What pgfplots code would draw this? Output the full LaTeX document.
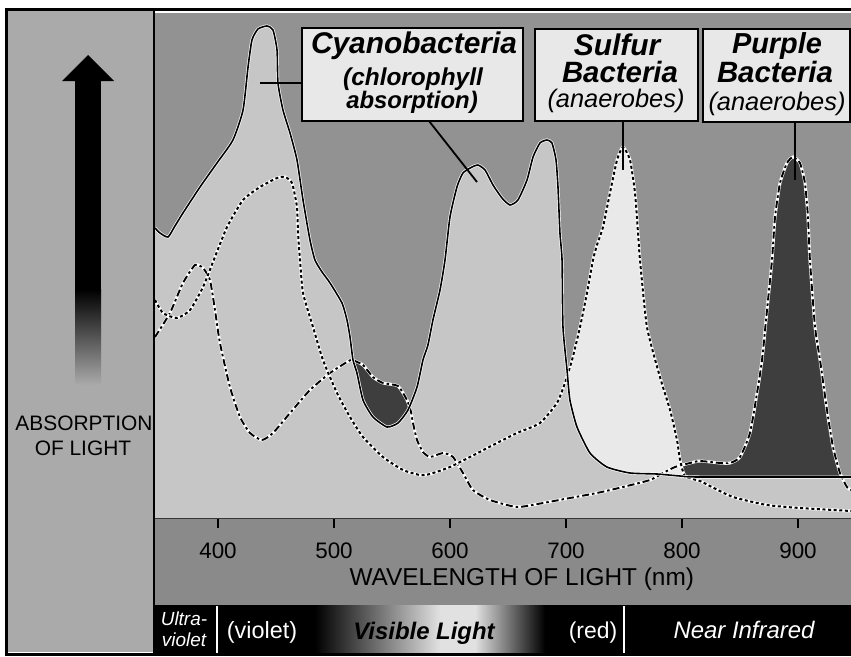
\documentclass[border=0pt]{standalone}
\usepackage{fontspec}
\setmainfont{Liberation Sans}
\usepackage{pgfplots}
\usepackage{pgfplotstable}
\pgfplotsset{compat=1.18}

\definecolor{panel}{RGB}{170,170,170}
\definecolor{bgmid}{RGB}{146,146,146}
\definecolor{cyanfill}{RGB}{198,198,198}
\definecolor{sulfill}{RGB}{233,233,233}
\definecolor{purfill}{RGB}{62,62,62}
\definecolor{band}{RGB}{138,138,138}
\definecolor{boxfill}{RGB}{232,232,232}
\definecolor{gradwhite}{RGB}{225,225,225}

% Cyanobacteria (chlorophyll) absorption, wavelength (nm) vs relative absorption
\pgfplotstableread{
x y
345.7 290
350.0 285
356.9 281
362.9 292
369.8 305
384.5 331
399.1 355
412.9 378
421.6 408
425.9 451
429.3 478
434.5 489
442.2 492
447.4 488
450.9 468
451.7 435
456.0 408
462.1 385
468.1 358
473.3 318
479.3 278
483.6 258
489.7 246
496.6 235
506.9 215
511.2 198
513.8 181
516.4 158
519.8 145
525.0 118
533.6 101
545.7 91
555.2 95
563.8 108
571.6 131
576.7 158
581.0 173
585.3 198
591.4 228
595.7 258
600.0 301
606.0 331
611.2 345
619.0 351
624.1 353
630.2 348
637.1 333
644.8 320
651.7 313
658.6 318
666.4 338
671.6 361
677.6 375
683.6 378
687.9 375
691.4 358
693.1 331
694.8 285
696.6 258
697.4 191
700.9 148
703.4 118
709.5 91
720.7 65
735.3 51
755.2 45
778.4 44
798.3 42
815.5 41
945.7 41
}\cyano

% Sulfur bacteria
\pgfplotstableread{
x y
345.7 218
352.6 205
364.7 200
375.9 208
387.1 231
395.7 256
407.8 291
421.6 318
436.2 331
450.9 340
457.8 341
463.8 335
468.1 311
469.0 285
470.7 258
473.3 225
481.9 191
490.5 158
502.6 125
513.8 101
525.0 81
542.2 61
559.5 48
574.1 43
582.8 44
600.0 51
617.2 61
640.5 75
657.8 85
677.6 95
692.2 115
699.1 135
705.2 158
712.1 191
718.1 225
723.3 258
726.7 273
731.9 291
737.9 325
744.0 358
749.1 371
755.2 358
759.5 325
762.1 285
763.8 258
769.8 191
781.0 141
789.7 108
795.7 78
798.3 58
802.6 42
815.5 37
824.1 32
844.0 21
873.3 13
901.7 10
945.7 7
}\sulfur

% Purple bacteria
\pgfplotstableread{
x y
345.7 181
358.6 205
369.8 235
380.2 253
387.1 250
393.1 238
397.4 208
401.7 175
410.3 131
419.0 101
427.6 85
437.9 78
447.4 85
462.1 105
479.3 128
496.6 145
511.2 156
515.5 158
525.0 153
533.6 141
542.2 135
555.2 132
562.9 118
566.4 106
568.1 95
571.6 78
576.7 66
582.8 61
594.0 65
602.6 61
611.2 45
619.8 28
634.5 18
657.8 11
680.2 15
703.4 20
726.7 25
749.1 31
772.4 38
783.6 45
794.0 51
806.9 55
815.5 57
832.8 55
841.4 55
850.0 61
858.6 85
864.7 125
869.0 158
873.3 208
877.6 258
880.2 301
884.5 335
890.5 355
895.7 361
901.7 355
906.0 335
908.6 301
910.3 258
914.7 191
919.0 158
925.0 108
930.2 71
936.2 45
942.2 31
945.7 28
}\purple

\begin{document}
\begin{tikzpicture}
\begin{scope}[x=1bp,y=-1bp]
  \fill[white] (0,0) rectangle (851,657);
  \fill[panel] (8,11) rectangle (153,652);
  \fill[band] (153,518) rectangle (851,605);
  \fill[black] (153,605) rectangle (851,653);
  % visible-light gradient
  \shade[left color=black, right color=gradwhite] (315,605) rectangle (440,653);
  \fill[gradwhite] (440,605) rectangle (475,653);
  \shade[left color=gradwhite, right color=black] (475,605) rectangle (545,653);
  % arrow
  \fill[black] (88,55) -- (114,81) -- (62,81) -- cycle;
  \fill[black] (75,80) rectangle (101,290);
  \shade[top color=black, bottom color=panel] (75,289.5) rectangle (101,385);
  \node[anchor=base, inner sep=0, font=\fontsize{21}{21}\selectfont] at (84,430) {ABSORPTION};
  \node[anchor=base, inner sep=0, font=\fontsize{21}{21}\selectfont] at (83,455) {OF LIGHT};
\end{scope}

\begin{axis}[
  at={(155bp,-518bp)}, anchor=south west,
  scale only axis, width=696bp, height=505bp,
  xmin=345.7, xmax=945.7, ymin=0, ymax=505,
  axis background/.style={fill=bgmid},
  axis y line=none, axis x line*=bottom,
  x axis line style={-, line width=1.2bp, black},
  xtick={400,500,600,700,800,900},
  xticklabels={400,500,600,700,800,900},
  major tick length=10bp, tick align=outside,
  tick style={black, line width=1.2bp},
  xticklabel style={anchor=base, yshift=-30bp, font=\fontsize{22.5}{22.5}\selectfont},
  xlabel={WAVELENGTH OF LIGHT (nm)},
  xlabel style={at={(axis description cs:0.527,0)}, anchor=base, yshift=-67bp, font=\fontsize{24.5}{24.5}\selectfont},
]
\addplot[fill=purfill, draw=none, smooth, tension=0.35] table {\purple} \closedcycle;
\addplot[fill=sulfill, draw=none, smooth, tension=0.35] table {\sulfur} \closedcycle;
\addplot[fill=cyanfill, draw=none, smooth, tension=0.35] table {\cyano} \closedcycle;
% purple bacteria line
\addplot[white, line width=3bp, smooth, tension=0.35] table {\purple};
\addplot[black, line width=1.9bp, smooth, tension=0.35, dash pattern=on 7bp off 3bp on 2.5bp off 3bp] table {\purple};
% sulfur bacteria line
\addplot[white, line width=3bp, smooth, tension=0.35] table {\sulfur};
\addplot[black, line width=2bp, smooth, tension=0.35, dash pattern=on 3bp off 2.6bp] table {\sulfur};
% cyanobacteria line
\addplot[white, line width=3bp, smooth, tension=0.35] table {\cyano};
\addplot[black, line width=1.6bp, smooth, tension=0.35] table {\cyano};
\end{axis}

\begin{scope}[x=1bp,y=-1bp]
  \draw[line width=1.5bp] (154,11) -- (154,605);
  % leader lines
  \draw[line width=1.8bp] (260,83) -- (302,83);
  \draw[line width=1.8bp] (429,121) -- (477,182);
  \draw[line width=1.8bp] (623,121) -- (623,170);
  \draw[line width=1.8bp] (795,122) -- (795,180);
  % boxes
  \draw[line width=2.5bp, fill=boxfill] (302,28) rectangle (523,121);
  \draw[line width=2.5bp, fill=boxfill] (535,29) rectangle (698,121);
  \draw[line width=2.5bp, fill=boxfill] (703,29) rectangle (850,122);
  \node[anchor=base, inner sep=0, font=\bfseries\itshape\fontsize{30}{30}\selectfont] at (414,53) {Cyanobacteria};
  \node[anchor=base, inner sep=0, font=\bfseries\itshape\fontsize{24.5}{24.5}\selectfont] at (413,85) {(chlorophyll};
  \node[anchor=base, inner sep=0, font=\bfseries\itshape\fontsize{24}{24}\selectfont] at (412,108) {absorption)};
  \node[anchor=base, inner sep=0, font=\bfseries\itshape\fontsize{30}{30}\selectfont] at (617,55) {Sulfur};
  \node[anchor=base, inner sep=0, font=\bfseries\itshape\fontsize{29.5}{29.5}\selectfont] at (620,82) {Bacteria};
  \node[anchor=base, inner sep=0, font=\itshape\fontsize{25.5}{25.5}\selectfont] at (616,107) {(anaerobes)};
  \node[anchor=base, inner sep=0, font=\bfseries\itshape\fontsize{29}{29}\selectfont] at (777,53) {Purple};
  \node[anchor=base, inner sep=0, font=\bfseries\itshape\fontsize{29.5}{29.5}\selectfont] at (775,82) {Bacteria};
  \node[anchor=base, inner sep=0, font=\itshape\fontsize{25.5}{25.5}\selectfont] at (777,110) {(anaerobes)};
  % spectrum band
  \draw[white, line width=2bp] (217,606) -- (217,653);
  \draw[white, line width=2bp] (624,606) -- (624,653);
  \node[anchor=base, inner sep=0, text=white, font=\itshape\fontsize{19}{19}\selectfont] at (184,625) {Ultra-};
  \node[anchor=base, inner sep=0, text=white, font=\itshape\fontsize{19}{19}\selectfont] at (184,646) {violet};
  \node[anchor=base, inner sep=0, text=white, font=\fontsize{23.5}{23.5}\selectfont] at (262,638) {(violet)};
  \node[anchor=base, inner sep=0, text=black, font=\bfseries\itshape\fontsize{24}{24}\selectfont] at (424,639) {Visible Light};
  \node[anchor=base, inner sep=0, text=white, font=\fontsize{23}{23}\selectfont] at (593,638) {(red)};
  \node[anchor=base, inner sep=0, text=white, font=\itshape\fontsize{24}{24}\selectfont] at (744,638) {Near Infrared};
  % outer frame
  \draw[line width=3bp] (6.5,9.5) rectangle (854,654);
\end{scope}
\pgfresetboundingbox
\useasboundingbox (0,0) rectangle (851bp,-657bp);
\end{tikzpicture}
\end{document}
